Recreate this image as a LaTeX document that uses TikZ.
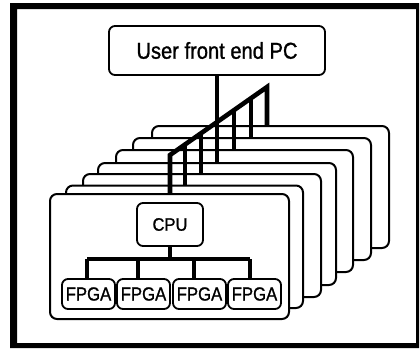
\documentclass[tikz,border=0pt]{standalone}
\usepackage{fontspec}
\setmainfont{Liberation Sans}
\newfontfamily\heavy[FakeBold=1.2]{Liberation Sans}
\usepackage{graphicx}
\begin{document}
\begin{tikzpicture}[x=1pt,y=-1pt,
  board/.style={draw, fill=white, line width=2pt, rounded corners=7pt, inner sep=0pt, outer sep=0pt},
  box/.style={draw, fill=white, line width=1.8pt, rounded corners=6pt, inner sep=0pt, outer sep=0pt},
  bus/.style={line width=3.8pt},
  topbus/.style={line width=4.6pt, line join=miter}
]
\useasboundingbox (0,0) rectangle (420,349);
% outer frame
\fill[even odd rule] (10,3) rectangle (419,348) (17,9) rectangle (416,343);
% stacked boards, back to front
\foreach \i/\l/\t/\r/\b in {7/152/126/389/248, 6/133/138/371/260, 5/116/150/353/272,
  4/98/163/336/285, 3/83/174/321/297, 2/66/185.5/303/308, 1/50/194/289/319}
  \node[board, minimum width={\r-\l}, minimum height={\b-\t}] (b\i) at ({(\l+\r)/2},{(\t+\b)/2}) {};
% user PC
\node[box, minimum width=216, minimum height=49] (pc) at (217,50.5)
  {\scalebox{0.875}[1]{\heavy\fontsize{23}{26}\selectfont User front end PC}};
% CPU
\node[box, minimum width=66, minimum height=43] (cpu) at (170,224.5)
  {\raisebox{-2pt}{\scalebox{0.92}[1]{\heavy\fontsize{18}{20}\selectfont CPU}}};
% FPGAs
\foreach \i/\x in {1/88.5, 2/143.5, 3/199.5, 4/254.5}
  \node[box, minimum width=53, minimum height=30] (f\i) at (\x,294)
    {\scalebox{0.88}[1]{\heavy\fontsize{19}{21}\selectfont FPGA}};
% CPU bus
\foreach \i/\x in {1/87, 2/138, 3/194, 4/250}
  \coordinate (t\i) at (\x,259);
\draw[bus] (t1) -- (t4);
\draw[bus] (cpu.south) -- (cpu.south |- t1);
\foreach \i in {1,...,4}
  \draw[bus] (t\i) -- (t\i |- f\i.north);
% top bus
\foreach \i/\x/\y in {1/170/155, 2/185/144.5, 3/201/133.3, 4/217/122.1,
  5/234/110.1, 6/251/98.2, 7/267/87}
  \coordinate (d\i) at (\x,\y);
\draw[topbus] (d1 |- b1.north) -- (d1) -- (d7) -- (d7 |- b7.north);
\foreach \i in {2,...,6}
  \draw[bus] (d\i) -- (d\i |- b\i.north);
\draw[bus] (pc.south) -- (pc.south |- b4.north);
\end{tikzpicture}
\end{document}
